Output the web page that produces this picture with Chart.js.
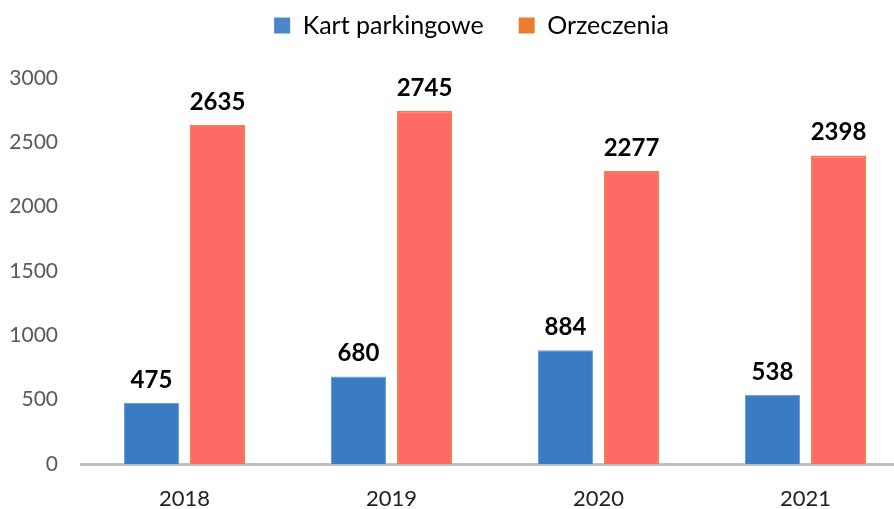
<!DOCTYPE html>
<html>
<head>
<meta charset="utf-8">
<script src="https://cdn.jsdelivr.net/npm/chart.js@4"></script>
<style>
  html, body { margin: 0; padding: 0; background: #fff; overflow: hidden; }
  #wrap { width: 940px; height: 509px; }
</style>
</head>
<body>
<div id="wrap"><canvas id="chart" width="940" height="509"></canvas></div>
<script>
const years = ['2018', '2019', '2020', '2021'];
const kartParkingowe = [475, 680, 884, 538];
const orzeczenia = [2635, 2745, 2277, 2398];
const yTicks = [0, 500, 1000, 1500, 2000, 2500, 3000];

const FONT = 'Lato, "Noto Sans", sans-serif';

// labels above bars
const barLabels = {
  id: 'barLabels',
  afterDatasetsDraw(chart) {
    const ctx = chart.ctx;
    ctx.save();
    ctx.font = 'bold 24px ' + FONT;
    ctx.fillStyle = '#000';
    ctx.textAlign = 'center';
    ctx.textBaseline = 'bottom';
    chart.data.datasets.forEach((ds, i) => {
      chart.getDatasetMeta(i).data.forEach((bar, j) => {
        ctx.fillText(ds.data[j], bar.x, bar.y - 11);
      });
    });
    ctx.restore();
  }
};

// extra room under the legend, and nudge it right a bit
const legendGap = {
  id: 'legendGap',
  beforeInit(chart) {
    const lg = chart.legend;
    const fit = lg.fit;
    lg.fit = function () {
      fit.bind(lg)();
      this.height += 30;
    };
    const draw = lg.draw;
    lg.draw = function () {
      chart.ctx.save();
      chart.ctx.translate(17, 0);
      draw.bind(lg)();
      chart.ctx.restore();
    };
  }
};

new Chart(document.getElementById('chart'), {
  type: 'bar',
  data: {
    labels: years,
    datasets: [
      {
        label: 'Kart parkingowe',
        data: kartParkingowe,
        backgroundColor: '#3a7cc3',
        borderColor: '#68a0d8',
        borderWidth: 1
      },
      {
        label: 'Orzeczenia',
        data: orzeczenia,
        backgroundColor: '#ff6a66',
        borderColor: '#f47c52',
        borderWidth: 2
      }
    ]
  },
  options: {
    responsive: false,
    animation: false,
    categoryPercentage: 0.638,
    barPercentage: 0.833,
    layout: { padding: { left: 0, right: 31, top: -22, bottom: 0 } },
    plugins: {
      legend: {
        position: 'top',
        labels: {
          boxWidth: 16,
          boxHeight: 16,
          padding: 35,
          color: '#000',
          font: { size: 25, family: FONT },
          generateLabels(chart) {
            const cols = ['#4a86c8', '#ed7d31'];
            return chart.data.datasets.map((ds, i) => ({
              text: ds.label,
              fillStyle: cols[i],
              strokeStyle: cols[i],
              lineWidth: 0,
              datasetIndex: i
            }));
          }
        }
      },
      tooltip: { enabled: false }
    },
    scales: {
      x: {
        grid: { display: false, drawTicks: false },
        border: { color: '#c0c0c0', width: 3 },
        afterFit(axis) { axis.height = 45; },
        ticks: { color: '#222', padding: 22, font: { size: 22, family: FONT } }
      },
      y: {
        min: 0,
        max: 3000,
        afterBuildTicks(axis) { axis.ticks = yTicks.map(v => ({ value: v })); },
        afterFit(axis) { axis.width = 81; },
        grid: { display: false, drawTicks: false },
        border: { display: false },
        ticks: {
          color: '#595959',
          padding: 23,
          font: { size: 21, family: FONT },
          callback: v => String(v)
        }
      }
    }
  },
  plugins: [barLabels, legendGap]
});
</script>
</body>
</html>
